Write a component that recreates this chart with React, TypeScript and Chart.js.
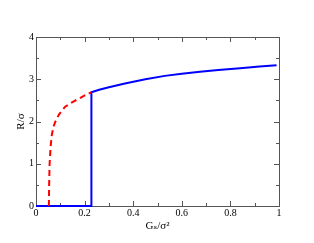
import React, { useEffect, useRef } from "react";
import { Chart, registerables } from "chart.js";

Chart.register(...registerables);

// Red dashed branch (unstable)
const redX = [0.053, 0.054, 0.056, 0.06, 0.065, 0.072, 0.08, 0.095, 0.12, 0.15, 0.18, 0.205, 0.228];
const redY = [0, 0.5, 1.0, 1.4, 1.68, 1.88, 2.0, 2.17, 2.35, 2.46, 2.55, 2.63, 2.69];

// Blue solid branch
const blueX = [0, 0.228, 0.228, 0.26, 0.3, 0.366, 0.45, 0.53, 0.6, 0.675, 0.75, 0.84, 0.92, 0.99];
const blueY = [0, 0, 2.69, 2.75, 2.81, 2.9, 3.0, 3.08, 3.13, 3.18, 3.22, 3.26, 3.3, 3.33];

const xMajor = [0, 0.2, 0.4, 0.6, 0.8, 1];
const xMinor = [0.1, 0.3, 0.5, 0.7, 0.9];
const yMajor = [0, 1, 2, 3, 4];
const yMinor = [0.5, 1.5, 2.5, 3.5];

const W = 314;
const H = 243;

const framePlugin = {
  id: "frameTicks",
  beforeDatasetsDraw(chart: any) {
    const { ctx, chartArea: a, scales } = chart;
    const xs = scales.x;
    const ys = scales.y;
    ctx.save();
    ctx.strokeStyle = "#555";
    ctx.lineWidth = 1;
    ctx.strokeRect(Math.round(a.left) + 0.5, Math.round(a.top) + 0.5, Math.round(a.right - a.left), Math.round(a.bottom - a.top));
    ctx.beginPath();
    const tick = (vals: number[], len: number) => {
      vals.forEach((v) => {
        const px = Math.round(xs.getPixelForValue(v)) + 0.5;
        ctx.moveTo(px, a.bottom);
        ctx.lineTo(px, a.bottom - len);
        ctx.moveTo(px, a.top);
        ctx.lineTo(px, a.top + len);
      });
    };
    const ytick = (vals: number[], len: number) => {
      vals.forEach((v) => {
        const py = Math.round(ys.getPixelForValue(v)) + 0.5;
        ctx.moveTo(a.left, py);
        ctx.lineTo(a.left + len, py);
        ctx.moveTo(a.right, py);
        ctx.lineTo(a.right - len, py);
      });
    };
    tick(xMajor, 5);
    tick(xMinor, 3);
    ytick(yMajor, 5);
    ytick(yMinor, 3);
    ctx.stroke();
    ctx.restore();
  },
};

export default function App() {
  const ref = useRef<HTMLCanvasElement | null>(null);
  useEffect(() => {
    document.body.style.margin = "0";
    const canvas = ref.current;
    if (!canvas) return;
    const font = { family: "'Liberation Serif', 'DejaVu Serif', serif", size: 10 };
    const chart = new Chart(canvas, {
      type: "scatter",
      data: {
        datasets: [
          {
            label: "unstable",
            data: redX.map((x, i) => ({ x, y: redY[i] })),
            showLine: true,
            borderColor: "#ff0000",
            borderWidth: 2,
            borderDash: [6, 4],
            pointRadius: 0,
            tension: 0,
            fill: false,
            clip: false,
          },
          {
            label: "stable",
            data: blueX.map((x, i) => ({ x, y: blueY[i] })),
            showLine: true,
            borderColor: "#0000ff",
            borderWidth: 2,
            pointRadius: 0,
            tension: 0,
            fill: false,
            clip: false,
          },
        ],
      },
      options: {
        animation: false,
        responsive: false,
        layout: { padding: { top: 37, right: 35, left: 0, bottom: 0 } },
        plugins: { legend: { display: false }, tooltip: { enabled: false } },
        scales: {
          x: {
            type: "linear",
            min: 0,
            max: 1,
            grid: { display: false, drawTicks: false },
            border: { display: false },
            ticks: {
              stepSize: 0.2,
              color: "#000",
              font,
              padding: 1,
              maxRotation: 0,
              callback: (v: any) => String(Math.round(Number(v) * 10) / 10),
            },
            title: {
              display: true,
              text: "Gₛ/σ²",
              color: "#000",
              font: { family: font.family, size: 11 },
              padding: { top: 0, bottom: 10 },
            },
            afterFit: (s: any) => {
              s.height = 37;
            },
          },
          y: {
            type: "linear",
            min: 0,
            max: 4,
            grid: { display: false, drawTicks: false },
            border: { display: false },
            ticks: { stepSize: 1, color: "#000", font, padding: 2 },
            title: {
              display: true,
              text: "R/σ",
              color: "#000",
              font: { family: font.family, size: 11 },
              padding: { top: 15, bottom: 0 },
            },
            afterFit: (s: any) => {
              s.width = 36;
            },
          },
        },
      },
      plugins: [framePlugin],
    } as any);
    return () => chart.destroy();
  }, []);
  return (
    <div style={{ position: "fixed", left: 0, top: 0, width: W, height: H, background: "#fff" }}>
      <canvas ref={ref} width={W} height={H} style={{ display: "block", width: W, height: H }} />
    </div>
  );
}
